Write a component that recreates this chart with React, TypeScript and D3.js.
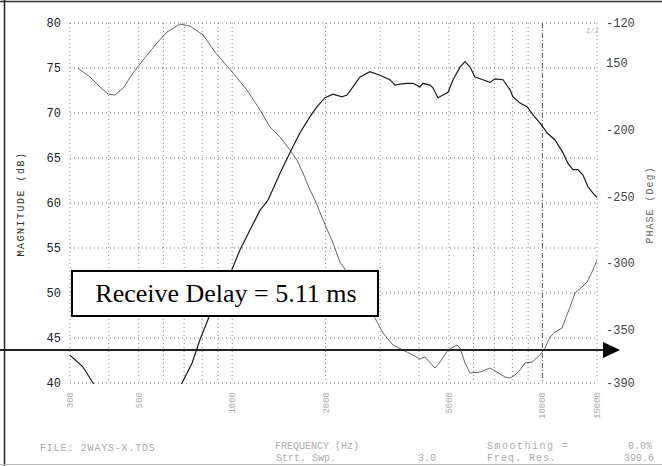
import React from "react";
import * as d3 from "d3";

// ---- data ----
const magFreq = [300, 330, 356, 400, 520, 640, 689, 742, 787, 848, 913, 998, 1060, 1141, 1230, 1304, 1426, 1536, 1654, 1782, 1877, 1992, 2114, 2259, 2345, 2451, 2583, 2781, 2994, 3225, 3348, 3473, 3660, 3828, 4030, 4122, 4341, 4437, 4607, 4783, 4964, 5151, 5424, 5631, 5845, 6064, 6294, 6777, 7034, 7465, 7859, 8040, 8468, 8921, 9327, 9820, 10346, 10982, 11647, 12091, 12550, 13023, 13515, 14030, 14560, 15000];
const magDb = [43.1, 41.8, 40.0, 37.0, 35.0, 37.5, 40.0, 42.2, 44.8, 47.6, 50.0, 52.6, 54.8, 57.0, 59.2, 60.3, 63.3, 65.6, 67.8, 69.6, 70.7, 71.7, 72.1, 71.8, 72.0, 72.9, 74.0, 74.6, 74.2, 73.7, 73.1, 73.2, 73.3, 73.3, 72.9, 73.3, 73.1, 72.8, 71.7, 72.0, 72.3, 73.7, 75.1, 75.7, 75.1, 74.0, 73.8, 73.4, 73.8, 73.7, 72.6, 71.8, 71.1, 70.7, 69.8, 68.9, 67.8, 67.0, 65.6, 64.4, 63.7, 63.7, 63.1, 61.8, 61.1, 60.6];

const phaseFreq = [318, 348, 375, 398, 419, 445, 479, 516, 572, 616, 679, 731, 806, 880, 1006, 1116, 1230, 1324, 1426, 1536, 1618, 1691, 1782, 1849, 1963, 2114, 2226, 2345, 2583, 2886, 3063, 3299, 3555, 3828, 4031, 4183, 4506, 4678, 4964, 5307, 5426, 5631, 5845, 6294, 6777, 7141, 7579, 7859, 8158, 8468, 8790, 9257, 9820, 10196, 10582, 10982, 11566, 11826, 12273, 12739, 13418, 13925, 14453, 14777, 15000];
const phaseDeg = [-153.8, -160.5, -168, -173.3, -174, -168.8, -157.5, -147.8, -135, -126.8, -120.8, -122.3, -129, -141.8, -157.5, -170.3, -185.3, -198, -205.5, -215.3, -222.8, -232.5, -245.3, -252.8, -267.8, -285, -299.3, -306.8, -324, -341.3, -352.5, -361.5, -365.3, -369, -372, -370.5, -378.8, -374.3, -365.3, -361.5, -363.8, -375, -382.5, -381.8, -378.8, -381.8, -385.5, -386.3, -384, -380.3, -375, -374.3, -369, -363.8, -355.5, -351.8, -348.8, -342.8, -333, -322.5, -318, -314.3, -306.8, -301.5, -297.8];

const gridFreqs = [300, 400, 500, 600, 700, 800, 900, 1000, 2000, 3000, 4000, 5000, 6000, 7000, 8000, 9000, 10000, 15000];
const freqTickValues = [300, 500, 1000, 2000, 5000, 10000, 15000];
const freqTickLabels = ["300", "500", "1000", "2000", "5000", "10000", "15000"];
const magTicks = [40, 45, 50, 55, 60, 65, 70, 75, 80];
const phaseTickValues = [-120, -150, -200, -250, -300, -350, -390];
const phaseTickLabels = ["-120", "150", "-200", "-250", "-300", "-350", "-390"];

const W = 662;
const H = 466;

export default function App() {
  const x = d3.scaleLog().domain([300, 15000]).range([70, 597]);
  const yMag = d3.scaleLinear().domain([40, 80]).range([383, 23]);
  const yPh = d3.scaleLinear().domain([-390, -120]).range([383, 23]);

  const magLine = d3
    .line<number>()
    .x((_, i) => x(magFreq[i]))
    .y((d) => yMag(d))
    .curve(d3.curveLinear);
  const phLine = d3
    .line<number>()
    .x((_, i) => x(phaseFreq[i]))
    .y((d) => yPh(d))
    .curve(d3.curveLinear);

  const [x0, x1] = x.range();
  const [yb, yt] = yMag.range();
  const mono = "'Liberation Mono', 'DejaVu Sans Mono', monospace";

  return (
    <svg
      width={W}
      height={H}
      style={{ position: "absolute", left: 0, top: 0, background: "#fff" }}
    >
      <defs>
        <clipPath id="plotClip">
          <rect x={x0} y={yt - 1} width={x1 - x0} height={yb - yt + 2} />
        </clipPath>
      </defs>
      <rect x={0} y={0} width={W} height={H} fill="#fff" />

      {/* page frame */}
      <line x1={0} x2={W} y1={1.5} y2={1.5} stroke="#333" strokeWidth={1.5} />
      <line x1={4.5} x2={4.5} y1={0} y2={H} stroke="#222" strokeWidth={1.5} />
      <line x1={0} x2={W} y1={464.5} y2={464.5} stroke="#bbb" strokeWidth={1} />

      {/* horizontal grid */}
      {magTicks.map((t) => (
        <line
          key={"h" + t}
          x1={x0}
          x2={x1}
          y1={yMag(t)}
          y2={yMag(t)}
          stroke="#777"
          strokeWidth={1}
          strokeDasharray="1,3"
        />
      ))}
      {/* vertical grid */}
      {gridFreqs.map((f) => (
        <line
          key={"v" + f}
          x1={x(f)}
          x2={x(f)}
          y1={yt}
          y2={yb}
          stroke={f === 10000 ? "#555" : "#888"}
          strokeWidth={1}
          strokeDasharray={f === 10000 ? "5,2,1,2" : "1,3"}
        />
      ))}

      {/* left tick labels */}
      {magTicks.map((t) => (
        <text
          key={"ml" + t}
          x={61}
          y={yMag(t)}
          dy="0.35em"
          textAnchor="end"
          fontFamily={mono}
          fontSize={12}
          fill="#222"
        >
          {t}
        </text>
      ))}
      {/* right tick labels */}
      {phaseTickValues.map((t, i) => (
        <text
          key={"pl" + t}
          x={606}
          y={yPh(t)}
          dy="0.35em"
          textAnchor="start"
          fontFamily={mono}
          fontSize={12}
          fill="#444"
        >
          {phaseTickLabels[i]}
        </text>
      ))}
      {/* frequency tick labels */}
      {freqTickValues.map((f, i) => (
        <text
          key={"fl" + f}
          transform={`translate(${x(f) + 3},392) rotate(-90)`}
          textAnchor="end"
          fontFamily={mono}
          fontSize={9}
          fill="#aaa"
        >
          {freqTickLabels[i]}
        </text>
      ))}

      {/* axis titles */}
      <text
        transform="translate(24,204) rotate(-90)"
        textAnchor="middle"
        fontFamily={mono}
        fontSize={10}
        letterSpacing={1.5}
        fill="#333"
      >
        MAGNITUDE (dB)
      </text>
      <text
        transform="translate(653,205) rotate(-90)"
        textAnchor="middle"
        fontFamily={mono}
        fontSize={10}
        letterSpacing={1}
        fill="#666"
      >
        PHASE (Deg)
      </text>

      <text x={586} y={33} fontFamily={mono} fontSize={7} fill="#aaa">
        2/2
      </text>

      {/* curves */}
      <g clipPath="url(#plotClip)">
        <path d={phLine(phaseDeg) || ""} fill="none" stroke="#555" strokeWidth={0.9} />
        <path d={magLine(magDb) || ""} fill="none" stroke="#1a1a1a" strokeWidth={1.2} />
      </g>

      {/* annotation box */}
      <rect x={72} y={271} width={306} height={45} fill="#fff" stroke="#000" strokeWidth={2} />
      <text
        x={226}
        y={302}
        textAnchor="middle"
        fontFamily="'Liberation Serif', 'Times New Roman', serif"
        fontSize={26}
        fill="#000"
      >
        Receive Delay = 5.11 ms
      </text>

      {/* arrow */}
      <line x1={0} x2={606} y1={350} y2={350} stroke="#222" strokeWidth={2} />
      <path d="M603,342 L620,350 L603,358 Z" fill="#000" />

      {/* footer text */}
      <g fontFamily={mono} fontSize={10} fill="#aaa">
        <text x={40} y={451} letterSpacing={0.8}>FILE: 2WAYS-X.TDS</text>
        <text x={275} y={449}>FREQUENCY (Hz)</text>
        <text x={276} y={461}>Strt. Swp.</text>
        <text x={418} y={461}>3.0</text>
        <text x={487} y={449} letterSpacing={1.5}>Smoothing =</text>
        <text x={628} y={449}>0.0%</text>
        <text x={487} y={461} letterSpacing={1}>Freq. Res.</text>
        <text x={624} y={461}>390.6</text>
      </g>
    </svg>
  );
}
